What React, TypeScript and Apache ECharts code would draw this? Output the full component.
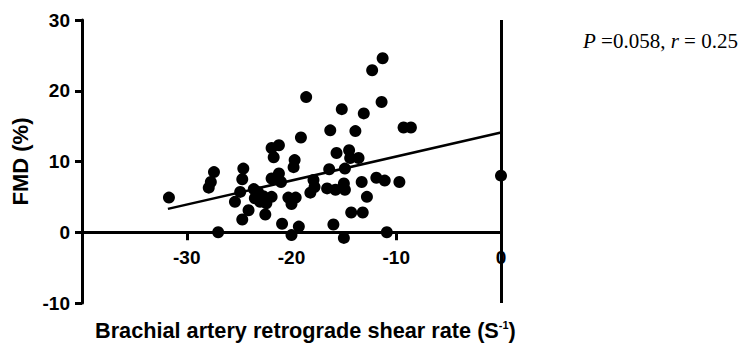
import React, { useEffect, useRef } from "react";
import * as echarts from "echarts";

const shearRate = [
  -31.7, -27.4, -27.7, -27.9, -27.0, -24.6, -24.7, -24.9, -25.4, -24.1, -24.7, -23.6,
  -23.2, -22.7, -21.9, -23.5, -23.0, -22.4, -22.5, -21.9, -21.2, -21.7, -21.2, -21.9,
  -21.0, -20.3, -19.6, -20.0, -20.9, -19.3, -20.0, -19.7, -19.8, -19.1, -18.6, -17.9,
  -17.8, -18.2, -16.3, -15.2, -15.7, -14.5, -13.6, -14.4, -16.4, -14.9, -16.6, -15.8,
  -15.0, -14.9, -16.0, -15.0, -14.3, -13.2, -13.1, -13.9, -13.3, -11.9, -11.1, -9.7,
  -12.8, -11.3, -12.3, -11.4, -9.3, -8.6, -10.9, 0.0,
];
const fmd = [
  4.9, 8.5, 7.1, 6.3, 0.0, 9.0, 7.5, 5.7, 4.3, 3.1, 1.8, 6.1,
  5.7, 5.1, 5.0, 4.8, 4.3, 4.1, 2.5, 11.9, 12.3, 10.6, 8.3, 7.6,
  7.1, 4.9, 4.9, 4.0, 1.2, 0.8, -0.4, 10.2, 9.2, 13.4, 19.1, 7.4,
  6.4, 5.6, 14.4, 17.4, 11.2, 11.6, 10.5, 10.5, 8.9, 9.0, 6.2, 6.0,
  6.9, 6.0, 1.1, -0.8, 2.8, 2.8, 16.8, 14.3, 7.1, 7.7, 7.3, 7.1,
  5.0, 24.6, 22.9, 18.4, 14.8, 14.8, 0.0, 8.0,
];
const regressionX = [-31.8, 0];
const regressionY = [3.3, 14.1];
const zeroLineX = 0;
const xMin = -40;
const xMax = 0;
const yMin = -10;
const yMax = 30;
const xTitle = "Brachial artery retrograde shear rate (S";
const xTitleSup = "-1";
const yTitle = "FMD (%)";
const statP = "0.058";
const statR = "0.25";

const GRID_TOP = 20;
const GRID_BOTTOM = 40;
const CHART_H = 343;

export default function App() {
  const ref = useRef<HTMLDivElement>(null);
  useEffect(() => {
    if (!ref.current) return;
    const chart = echarts.init(ref.current, null, { renderer: "svg" });
    const sans = "Liberation Sans, Arial, sans-serif";
    const serif = "Liberation Serif, Times New Roman, serif";
    const plotH = CHART_H - GRID_TOP - GRID_BOTTOM;
    // move the x axis up from the grid bottom to the y = 0 level
    const xAxisOffset = -(plotH * (0 - yMin)) / (yMax - yMin);
    chart.setOption({
      animation: false,
      grid: { left: 82, right: 243, top: GRID_TOP, bottom: GRID_BOTTOM, containLabel: false },
      xAxis: {
        type: "value",
        position: "bottom",
        offset: xAxisOffset,
        min: xMin,
        max: xMax,
        interval: 10,
        splitLine: { show: false },
        axisLine: { show: true, onZero: false, lineStyle: { color: "#000", width: 3 } },
        axisTick: { show: true, length: 8, lineStyle: { color: "#000", width: 3 } },
        axisLabel: {
          showMinLabel: false,
          margin: 16,
          color: "#000",
          fontSize: 19,
          fontWeight: "bold",
          fontFamily: sans,
        },
      },
      yAxis: {
        type: "value",
        position: "left",
        min: yMin,
        max: yMax,
        interval: 10,
        splitLine: { show: false },
        axisLine: { show: true, onZero: false, lineStyle: { color: "#000", width: 3 } },
        axisTick: { show: true, length: 7, lineStyle: { color: "#000", width: 3 } },
        axisLabel: {
          margin: 12,
          color: "#000",
          fontSize: 19,
          fontWeight: "bold",
          fontFamily: sans,
        },
        name: yTitle,
        nameLocation: "middle",
        nameGap: 46,
        nameTextStyle: {
          color: "#000",
          fontSize: 22,
          fontWeight: "bold",
          fontFamily: sans,
        },
      },
      series: [
        {
          type: "scatter",
          symbol: "circle",
          symbolSize: 12,
          itemStyle: { color: "#000", opacity: 1 },
          data: shearRate.map((x, i) => [x, fmd[i]]),
          z: 3,
          markLine: {
            silent: true,
            symbol: ["none", "none"],
            label: { show: false },
            lineStyle: { color: "#000", width: 3, type: "solid", opacity: 1 },
            data: [{ xAxis: zeroLineX }],
            z: 4,
          },
        },
        {
          type: "line",
          showSymbol: false,
          symbol: "none",
          lineStyle: { color: "#000", width: 2.5 },
          data: regressionX.map((x, i) => [x, regressionY[i]]),
          z: 2,
        },
      ],
      graphic: [
        {
          type: "text",
          x: 95,
          y: 330,
          style: {
            text: `{a|${xTitle}}{b|${xTitleSup}}{a|)}`,
            verticalAlign: "middle",
            align: "left",
            fill: "#000",
            rich: {
              a: { fontSize: 21.7, fontWeight: "bold", fontFamily: sans, fill: "#000" },
              b: { fontSize: 11, fontWeight: "bold", fontFamily: sans, verticalAlign: "top", fill: "#000" },
            },
          },
        },
        {
          type: "text",
          x: 583,
          y: 41,
          style: {
            text: `{i|P}{n| =${statP}, }{i|r}{n| = ${statR}}`,
            verticalAlign: "middle",
            align: "left",
            fill: "#000",
            rich: {
              i: { fontSize: 21, fontStyle: "italic", fontFamily: serif, fill: "#000" },
              n: { fontSize: 21, fontFamily: serif, fill: "#000" },
            },
          },
        },
      ],
    });
    return () => chart.dispose();
  }, []);
  return (
    <div
      ref={ref}
      style={{ position: "fixed", left: 0, top: 0, width: 744, height: 343, background: "#fff" }}
    />
  );
}
